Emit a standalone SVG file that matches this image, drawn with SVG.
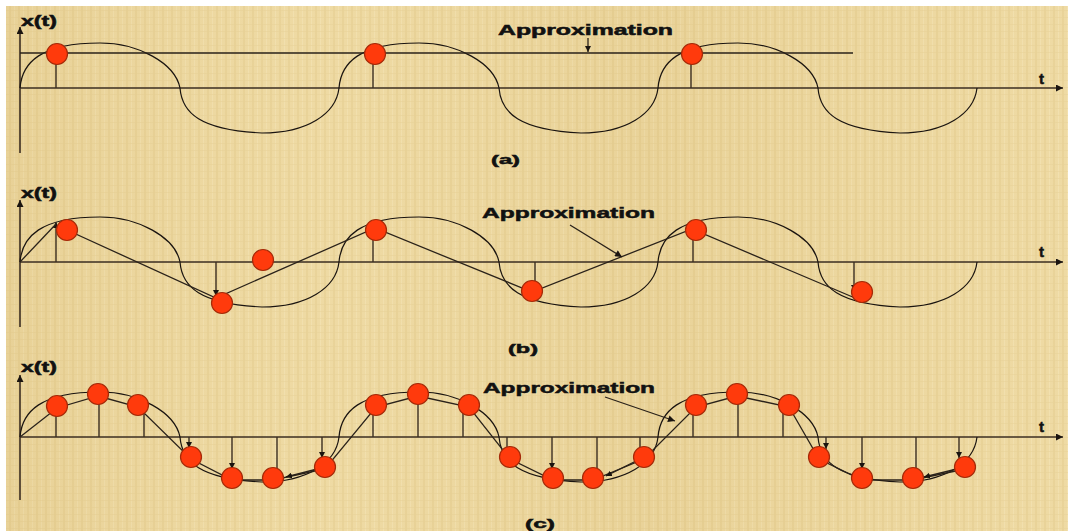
<svg xmlns="http://www.w3.org/2000/svg" xmlns:xlink="http://www.w3.org/1999/xlink" width="1068" height="531" viewBox="0 0 1068 531">
<defs>
<style>
.ax{stroke:#3b2e22;stroke-width:1.6;fill:none}
.wave{stroke:#1a1410;stroke-width:1.2;fill:none}
.apx{stroke:#2a221a;stroke-width:1.3;fill:none}
.stem{stroke:#3b2e22;stroke-width:1.4;fill:none}
.dot{fill:#ff3a0c;stroke:#a52a08;stroke-width:1.2}
.lbl{font-family:"Liberation Sans",Arial,sans-serif;font-weight:bold;fill:#111;stroke:#111;stroke-width:0.5}
</style>
<pattern id="tex" width="9" height="7" patternUnits="userSpaceOnUse">
<rect width="9" height="7" fill="#edd8a0"/>
<rect x="0" width="2" height="7" fill="#e2c98b" opacity="0.55"/>
<rect x="5" width="1" height="7" fill="#f4e4b6" opacity="0.6"/>
<rect y="3" width="9" height="1" fill="#e5cd92" opacity="0.5"/>
</pattern>
<linearGradient id="shade" x1="0" y1="0" x2="1" y2="0">
<stop offset="0" stop-color="#d9bd7c" stop-opacity="0.25"/>
<stop offset="0.3" stop-color="#f6e6b8" stop-opacity="0.15"/>
<stop offset="0.6" stop-color="#d9bd7c" stop-opacity="0.2"/>
<stop offset="1" stop-color="#f6e6b8" stop-opacity="0.15"/>
</linearGradient>
<marker id="ah" viewBox="0 0 10 10" refX="10" refY="5" markerWidth="8" markerHeight="7" orient="auto" markerUnits="userSpaceOnUse">
<path d="M0,0 L10,5 L0,10 z" fill="#1a1410"/>
</marker>
<marker id="sh" viewBox="0 0 10 10" refX="10" refY="5" markerWidth="6" markerHeight="6" orient="auto" markerUnits="userSpaceOnUse">
<path d="M0,0 L10,5 L0,10 z" fill="#1a1410"/>
</marker>
<path id="wave" d="M0,0 C2,-25 20,-45 80,-45 C118,-45 155,-25 160,0 C162,25 180,42 242,45 C287,45 316,26 319,0"/>
</defs>

<rect width="1068" height="531" fill="#ffffff"/>
<rect x="6" y="6" width="1062" height="525" fill="url(#tex)"/>
<rect x="6" y="6" width="1062" height="525" fill="url(#shade)"/>

<!-- Panel (a) -->
<g id="panel-a">
<g id="axes-a">
<line class="ax" x1="20" y1="153" x2="20" y2="27" marker-end="url(#ah)"/>
<line class="ax" x1="20" y1="88" x2="1063" y2="88" marker-end="url(#ah)"/>
<text class="lbl" x="21" y="26" font-size="14" textLength="36" lengthAdjust="spacingAndGlyphs">x(t)</text>
<text class="lbl" x="1039" y="84" font-size="15">t</text>
</g>
<g id="signal-a">
<use href="#wave" x="20" y="88" class="wave"/>
<use href="#wave" x="339" y="88" class="wave"/>
<use href="#wave" x="658" y="88" class="wave"/>
</g>
<g id="approx-a">
<line class="apx" x1="20" y1="53" x2="853" y2="53"/>
</g>
<g id="samples-a">
<line class="stem" x1="56" y1="88" x2="56" y2="62"/>
<line class="stem" x1="373" y1="88" x2="373" y2="62"/>
<line class="stem" x1="691" y1="88" x2="691" y2="62"/>
<circle class="dot" cx="57" cy="54" r="10.5"/>
<circle class="dot" cx="375" cy="54" r="10.5"/>
<circle class="dot" cx="692" cy="54" r="10.5"/>
</g>
<g id="label-a">
<text class="lbl" x="498" y="35" font-size="14" textLength="175" lengthAdjust="spacingAndGlyphs">Approximation</text>
<line class="apx" x1="588" y1="38" x2="588" y2="52" marker-end="url(#sh)"/>
<text class="lbl" x="491" y="164" font-size="13" textLength="29" lengthAdjust="spacingAndGlyphs">(a)</text>
</g>
</g>

<!-- Panel (b) -->
<g id="panel-b">
<g id="axes-b">
<line class="ax" x1="20" y1="327" x2="20" y2="200" marker-end="url(#ah)"/>
<line class="ax" x1="20" y1="262" x2="1063" y2="262" marker-end="url(#ah)"/>
<text class="lbl" x="21" y="198" font-size="14" textLength="36" lengthAdjust="spacingAndGlyphs">x(t)</text>
<text class="lbl" x="1039" y="257" font-size="15">t</text>
</g>
<g id="signal-b">
<use href="#wave" x="20" y="262" class="wave"/>
<use href="#wave" x="339" y="262" class="wave"/>
<use href="#wave" x="658" y="262" class="wave"/>
</g>
<g id="samples-b-stems">
<line class="stem" x1="56" y1="262" x2="56" y2="222" marker-end="url(#sh)"/>
<line class="stem" x1="216" y1="262" x2="216" y2="296" marker-end="url(#sh)"/>
<line class="stem" x1="373" y1="262" x2="373" y2="232"/>
<line class="stem" x1="535" y1="262" x2="535" y2="284"/>
<line class="stem" x1="693" y1="262" x2="693" y2="232"/>
<line class="stem" x1="854" y1="262" x2="854" y2="291" marker-end="url(#sh)"/>
</g>
<g id="approx-b">
<line class="apx" x1="20" y1="262" x2="56" y2="224"/>
<polyline class="apx" points="67,230 216,298 375,228 532,292 692,229 855,298"/>
</g>
<g id="samples-b">
<circle class="dot" cx="67" cy="230" r="10.5"/>
<circle class="dot" cx="222" cy="303" r="10.5"/>
<circle class="dot" cx="263" cy="260" r="10.5"/>
<circle class="dot" cx="376" cy="230" r="10.5"/>
<circle class="dot" cx="532" cy="291" r="10.5"/>
<circle class="dot" cx="696" cy="230" r="10.5"/>
<circle class="dot" cx="862" cy="292" r="10.5"/>
</g>
<g id="label-b">
<text class="lbl" x="482" y="218" font-size="15" textLength="173" lengthAdjust="spacingAndGlyphs">Approximation</text>
<line class="apx" x1="570" y1="225" x2="622" y2="257" marker-end="url(#ah)"/>
<text class="lbl" x="508" y="353" font-size="13" textLength="30" lengthAdjust="spacingAndGlyphs">(b)</text>
</g>
</g>

<!-- Panel (c) -->
<g id="panel-c">
<g id="axes-c">
<line class="ax" x1="20" y1="500" x2="20" y2="375" marker-end="url(#ah)"/>
<line class="ax" x1="20" y1="437" x2="1063" y2="437" marker-end="url(#ah)"/>
<text class="lbl" x="21" y="372" font-size="14" textLength="36" lengthAdjust="spacingAndGlyphs">x(t)</text>
<text class="lbl" x="1039" y="432" font-size="15">t</text>
</g>
<g id="signal-c">
<use href="#wave" x="20" y="437" class="wave"/>
<use href="#wave" x="339" y="437" class="wave"/>
<use href="#wave" x="658" y="437" class="wave"/>
</g>
<g id="samples-c-stems">
<line class="stem" x1="56" y1="437" x2="56" y2="414"/>
<line class="stem" x1="99" y1="437" x2="99" y2="403"/>
<line class="stem" x1="144" y1="437" x2="144" y2="412"/>
<line class="stem" x1="189" y1="437" x2="189" y2="448" marker-end="url(#sh)"/>
<line class="stem" x1="232" y1="437" x2="232" y2="469" marker-end="url(#sh)"/>
<line class="stem" x1="277" y1="437" x2="277" y2="469"/>
<line class="stem" x1="322" y1="437" x2="322" y2="458" marker-end="url(#sh)"/>
<line class="stem" x1="373" y1="437" x2="373" y2="414"/>
<line class="stem" x1="418" y1="437" x2="418" y2="403"/>
<line class="stem" x1="463" y1="437" x2="463" y2="412"/>
<line class="stem" x1="507" y1="437" x2="507" y2="448"/>
<line class="stem" x1="552" y1="437" x2="552" y2="469" marker-end="url(#sh)"/>
<line class="stem" x1="597" y1="437" x2="597" y2="469"/>
<line class="stem" x1="640" y1="437" x2="640" y2="448"/>
<line class="stem" x1="693" y1="437" x2="693" y2="414"/>
<line class="stem" x1="738" y1="437" x2="738" y2="403"/>
<line class="stem" x1="783" y1="437" x2="783" y2="412"/>
<line class="stem" x1="826" y1="437" x2="826" y2="449" marker-end="url(#sh)"/>
<line class="stem" x1="862" y1="437" x2="862" y2="469" marker-end="url(#sh)"/>
<line class="stem" x1="916" y1="437" x2="916" y2="469"/>
<line class="stem" x1="959" y1="437" x2="959" y2="458" marker-end="url(#sh)"/>
</g>
<g id="approx-c">
<polyline class="apx" points="20,437 57,408 98,396 138,407 191,459 232,480 273,480 325,469 376,407 418,396 469,407 510,459 553,480 593,480 644,459 696,407 737,396 789,407 819,459 862,480 913,480 965,469"/>
<line class="apx" x1="325" y1="467" x2="286" y2="477" marker-end="url(#sh)"/>
<line class="apx" x1="644" y1="457" x2="606" y2="476" marker-end="url(#sh)"/>
<line class="apx" x1="965" y1="467" x2="924" y2="477" marker-end="url(#sh)"/>
</g>
<g id="samples-c">
<circle class="dot" cx="57" cy="406" r="10.5"/>
<circle class="dot" cx="98" cy="394" r="10.5"/>
<circle class="dot" cx="138" cy="405" r="10.5"/>
<circle class="dot" cx="191" cy="457" r="10.5"/>
<circle class="dot" cx="232" cy="478" r="10.5"/>
<circle class="dot" cx="273" cy="478" r="10.5"/>
<circle class="dot" cx="325" cy="467" r="10.5"/>
<circle class="dot" cx="376" cy="405" r="10.5"/>
<circle class="dot" cx="418" cy="394" r="10.5"/>
<circle class="dot" cx="469" cy="405" r="10.5"/>
<circle class="dot" cx="510" cy="457" r="10.5"/>
<circle class="dot" cx="553" cy="478" r="10.5"/>
<circle class="dot" cx="593" cy="478" r="10.5"/>
<circle class="dot" cx="644" cy="457" r="10.5"/>
<circle class="dot" cx="696" cy="405" r="10.5"/>
<circle class="dot" cx="737" cy="394" r="10.5"/>
<circle class="dot" cx="789" cy="405" r="10.5"/>
<circle class="dot" cx="819" cy="457" r="10.5"/>
<circle class="dot" cx="862" cy="478" r="10.5"/>
<circle class="dot" cx="913" cy="478" r="10.5"/>
<circle class="dot" cx="965" cy="467" r="10.5"/>
</g>
<g id="label-c">
<text class="lbl" x="483" y="393" font-size="15" textLength="172" lengthAdjust="spacingAndGlyphs">Approximation</text>
<line class="apx" x1="605" y1="397" x2="675" y2="421" marker-end="url(#ah)"/>
<text class="lbl" x="525" y="528" font-size="13" textLength="30" lengthAdjust="spacingAndGlyphs">(c)</text>
</g>
</g>
</svg>
